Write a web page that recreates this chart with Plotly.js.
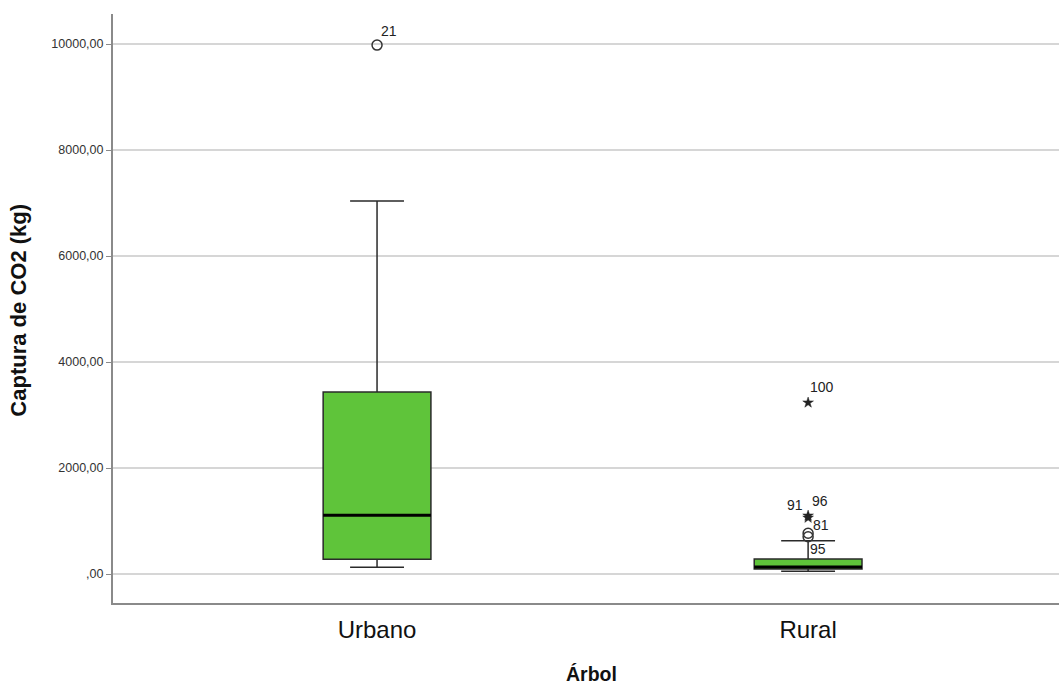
<!DOCTYPE html>
<html><head><meta charset="utf-8">
<script src="https://cdn.plot.ly/plotly-3.0.1.min.js"></script>
<style>html,body{margin:0;padding:0;background:#fff}#chart{width:1059px;height:684px}</style>
</head><body><div id="chart"></div>
<script>
const categories = ['Urbano', 'Rural'];
const q1 = [277, 94];
const medians = [1107, 132];
const q3 = [3434, 283];
const lowerWhisker = [126, 50];
const upperWhisker = [7038, 628];

const circleGroup = [0, 1, 1];
const circleValues = [9980, 768, 704];
const circleLabels = ['21', '81', '95'];

const starGroup = [1, 1, 1];
const starValues = [3233, 1100, 1060];
const starLabels = ['100', '96', '91'];

const yTickVals = [0, 2000, 4000, 6000, 8000, 10000];
const yTickText = [',00', '2000,00', '4000,00', '6000,00', '8000,00', '10000,00'];

const xTitle = 'Árbol';
const yTitle = 'Captura de CO2 (kg)';

const positions = categories.map((c, i) => i);
const boxWidth = 0.25;
const FONT = 'Liberation Sans, Arial, sans-serif';

// label offsets in pixels (style only)
const circleShift = [[11.5, 14], [12.5, 8], [10, -12]];
const starShift = [[14, 15.5], [12, 15], [-13, 13]];

const medX = [], medY = [];
positions.forEach((p, i) => {
  medX.push(p - boxWidth / 2, p + boxWidth / 2, null);
  medY.push(medians[i], medians[i], null);
});

const traces = [
  {
    type: 'box',
    x: positions,
    q1: q1, median: medians, q3: q3,
    lowerfence: lowerWhisker, upperfence: upperWhisker,
    width: boxWidth,
    whiskerwidth: 0.5,
    boxpoints: false,
    fillcolor: '#5fc43a',
    line: {color: '#2a2a2a', width: 1.5},
    hoverinfo: 'skip',
    showlegend: false
  },
  {
    type: 'scatter', mode: 'lines',
    x: medX, y: medY,
    line: {color: '#000', width: 3},
    hoverinfo: 'skip', showlegend: false
  },
  {
    type: 'scatter', mode: 'markers',
    x: circleGroup, y: circleValues,
    marker: {symbol: 'circle-open', size: 10, color: '#333', line: {width: 1.5}},
    cliponaxis: false,
    hoverinfo: 'skip', showlegend: false
  },
  {
    type: 'scatter', mode: 'markers',
    x: starGroup, y: starValues,
    marker: {symbol: 'star', size: 8, color: '#222', line: {width: 0.5, color: '#222'}},
    cliponaxis: false,
    hoverinfo: 'skip', showlegend: false
  }
];

const annotations = [];
circleGroup.forEach((g, i) => annotations.push({
  x: g, y: circleValues[i], xref: 'x', yref: 'y', text: circleLabels[i], showarrow: false,
  xanchor: 'center', yanchor: 'middle', xshift: circleShift[i][0], yshift: circleShift[i][1],
  font: {family: FONT, size: 14, color: '#222'}
}));
starGroup.forEach((g, i) => annotations.push({
  x: g, y: starValues[i], xref: 'x', yref: 'y', text: starLabels[i], showarrow: false,
  xanchor: 'center', yanchor: 'middle', xshift: starShift[i][0], yshift: starShift[i][1],
  font: {family: FONT, size: 14, color: '#222'}
}));
annotations.push({
  x: 0.5058, y: -0.1205, xref: 'paper', yref: 'paper', text: '<b>' + xTitle + '</b>',
  showarrow: false, xanchor: 'center', yanchor: 'middle',
  font: {family: FONT, size: 19.5, color: '#111'}
});
annotations.push({
  x: -0.0994, y: 0.498, xref: 'paper', yref: 'paper', text: '<b>' + yTitle + '</b>',
  showarrow: false, xanchor: 'center', yanchor: 'middle', textangle: -90,
  font: {family: FONT, size: 22, color: '#111'}
});

const layout = {
  width: 1059, height: 684,
  margin: {l: 113, r: 0, t: 14, b: 81},
  paper_bgcolor: '#fff', plot_bgcolor: '#fff',
  font: {family: FONT, color: '#222'},
  annotations: annotations,
  xaxis: {
    range: [-0.6125, 1.582],
    tickvals: positions, ticktext: categories,
    tickfont: {family: FONT, size: 24, color: '#111'},
    ticklabelstandoff: 4,
    showgrid: false, zeroline: false,
    showline: true, linecolor: '#8a8a8a', linewidth: 2,
    ticks: ''
  },
  yaxis: {
    range: [-547, 10566],
    tickvals: yTickVals, ticktext: yTickText,
    tickfont: {family: FONT, size: 12.5, color: '#333'},
    showgrid: true, gridcolor: '#d6d6d6', gridwidth: 2,
    zeroline: false,
    showline: true, linecolor: '#8a8a8a', linewidth: 2,
    ticks: 'outside', ticklen: 5, tickcolor: '#8a8a8a', tickwidth: 1
  }
};

Plotly.newPlot('chart', traces, layout, {displayModeBar: false, staticPlot: true});
</script>
</body></html>
